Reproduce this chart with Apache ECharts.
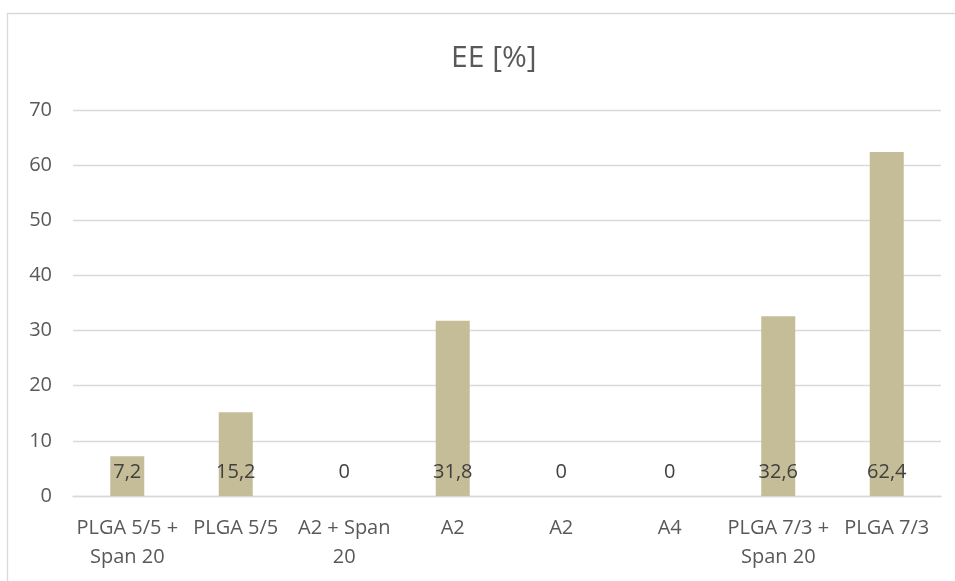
<!DOCTYPE html>
<html>
<head>
<meta charset="utf-8">
<title>EE [%]</title>
<script src="https://cdn.jsdelivr.net/npm/echarts@6/dist/echarts.min.js"></script>
<style>
  html, body { margin: 0; padding: 0; background: #ffffff; }
  #chart { width: 955px; height: 581px; }
</style>
</head>
<body>
<div id="chart"></div>
<script>
// Formulation names (line breaks as shown under each bar)
const categories = [
  'PLGA 5/5 +\nSpan 20',
  'PLGA 5/5',
  'A2 + Span\n20',
  'A2',
  'A2',
  'A4',
  'PLGA 7/3 +\nSpan 20',
  'PLGA 7/3'
];
// Encapsulation efficiency, percent
const eeValues = [7.2, 15.2, 0, 31.8, 0, 0, 32.6, 62.4];
// Value axis ticks
const yTicks = [0, 10, 20, 30, 40, 50, 60, 70];

const FONT = '"Open Sans", "Noto Sans", sans-serif';
const TEXT = '#595959';
const GRID = '#D9D9D9';

const chart = echarts.init(document.getElementById('chart'), null, { renderer: 'canvas' });

chart.setOption({
  animation: false,
  backgroundColor: '#ffffff',
  graphic: [{
    type: 'rect',
    left: 5, top: 11,
    shape: { width: 1000, height: 700 },
    style: { fill: 'none', stroke: GRID, lineWidth: 1.3 },
    silent: true
  }],
  title: {
    text: 'EE [%]',
    left: 446,
    top: 38,
    textStyle: { color: TEXT, fontFamily: FONT, fontWeight: 'normal', fontSize: 30 }
  },
  grid: { left: 73, right: 14, top: 110, bottom: 85, containLabel: false },
  xAxis: {
    type: 'category',
    data: categories,
    axisTick: { show: false },
    axisLine: { lineStyle: { color: GRID, width: 1.3 } },
    axisLabel: {
      color: TEXT, fontFamily: FONT, fontSize: 20, lineHeight: 29,
      margin: 18, interval: 0
    }
  },
  yAxis: {
    type: 'value',
    min: yTicks[0],
    max: yTicks[yTicks.length - 1],
    interval: yTicks[1] - yTicks[0],
    axisLine: { show: false },
    axisTick: { show: false },
    splitLine: { lineStyle: { color: GRID, width: 1.3 } },
    axisLabel: { color: TEXT, fontFamily: FONT, fontSize: 20, margin: 21 }
  },
  series: [{
    type: 'bar',
    data: eeValues,
    barWidth: 34,
    itemStyle: { color: '#C4BD97' },
    label: {
      show: true,
      position: 'insideBottom',
      distance: 14,
      color: '#404040',
      fontFamily: FONT,
      fontSize: 20,
      formatter: p => String(p.value).replace('.', ',')
    }
  }]
});
</script>
</body>
</html>
